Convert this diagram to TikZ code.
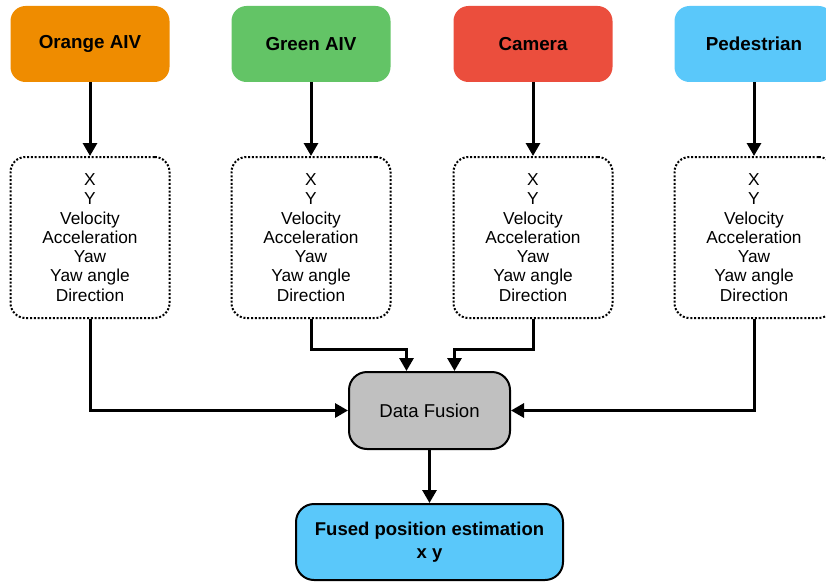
\documentclass[tikz,border=0pt]{standalone}
\usepackage{fontspec}
\setmainfont{Liberation Sans}
\usetikzlibrary{arrows.meta}

\definecolor{aivorange}{HTML}{EF8C00}
\definecolor{aivgreen}{HTML}{63C466}
\definecolor{camred}{HTML}{EB4E3D}
\definecolor{pedblue}{HTML}{5AC8FA}
\definecolor{fusegray}{HTML}{C0C0C0}

\begin{document}
\begin{tikzpicture}[x=1pt, y=-1pt,
	source/.style={rounded corners=15pt, minimum width=159pt, minimum height=76pt,
		inner sep=0pt, font=\fontsize{18.8}{22}\selectfont\bfseries},
	info/.style={draw, line width=2pt, dash pattern=on 2pt off 1.8pt,
		rounded corners=15pt, minimum width=159pt, minimum height=161pt,
		align=center, font=\fontsize{17.3}{19.3}\selectfont},
	flow/.style={line width=3pt, -{Triangle[length=13pt, width=14pt]}}]

\useasboundingbox (0,0) rectangle (826,583);

% sources
\node[source, fill=aivorange] (orange) at (90,44) {Orange AIV};
\node[source, fill=aivgreen] (green) at (311,44) {Green AIV};
\node[source, fill=camred] (camera) at (533,44) {Camera};
\node[source, fill=pedblue] (pedestrian) at (754,44) {Pedestrian};

% measured quantities
\foreach \name/\x in {orange/90, green/311, camera/533, pedestrian/754}
	\node[info] (\name info) at (\x,237.5)
		{X\\Y\\Velocity\\Acceleration\\Yaw\\Yaw angle\\Direction};

% fusion and result
\node[draw, line width=2pt, fill=fusegray, rounded corners=18pt,
	minimum width=161pt, minimum height=77pt,
	font=\fontsize{18.6}{21}\selectfont] (fusion) at (429.5,410.5) {Data Fusion};
\node[draw, line width=2pt, fill=pedblue, rounded corners=18pt,
	minimum width=267pt, minimum height=76pt, align=center,
	font=\fontsize{18.5}{22.5}\selectfont\bfseries] (estimate) at (429.5,542)
	{Fused position estimation\\x y};

% arrows
\foreach \name in {orange, green, camera, pedestrian}
	\draw[flow] (\name) -- (\name info);
\draw[flow] (orangeinfo.south) |- (fusion.west);
\draw[flow] (greeninfo.south) -- ++(0,30) -| ([xshift=-23pt]fusion.north);
\draw[flow] (camerainfo.south) -- ++(0,30) -| ([xshift=25pt]fusion.north);
\draw[flow] (pedestrianinfo.south) |- (fusion.east);
\draw[flow] (fusion) -- (estimate);

\end{tikzpicture}
\end{document}
